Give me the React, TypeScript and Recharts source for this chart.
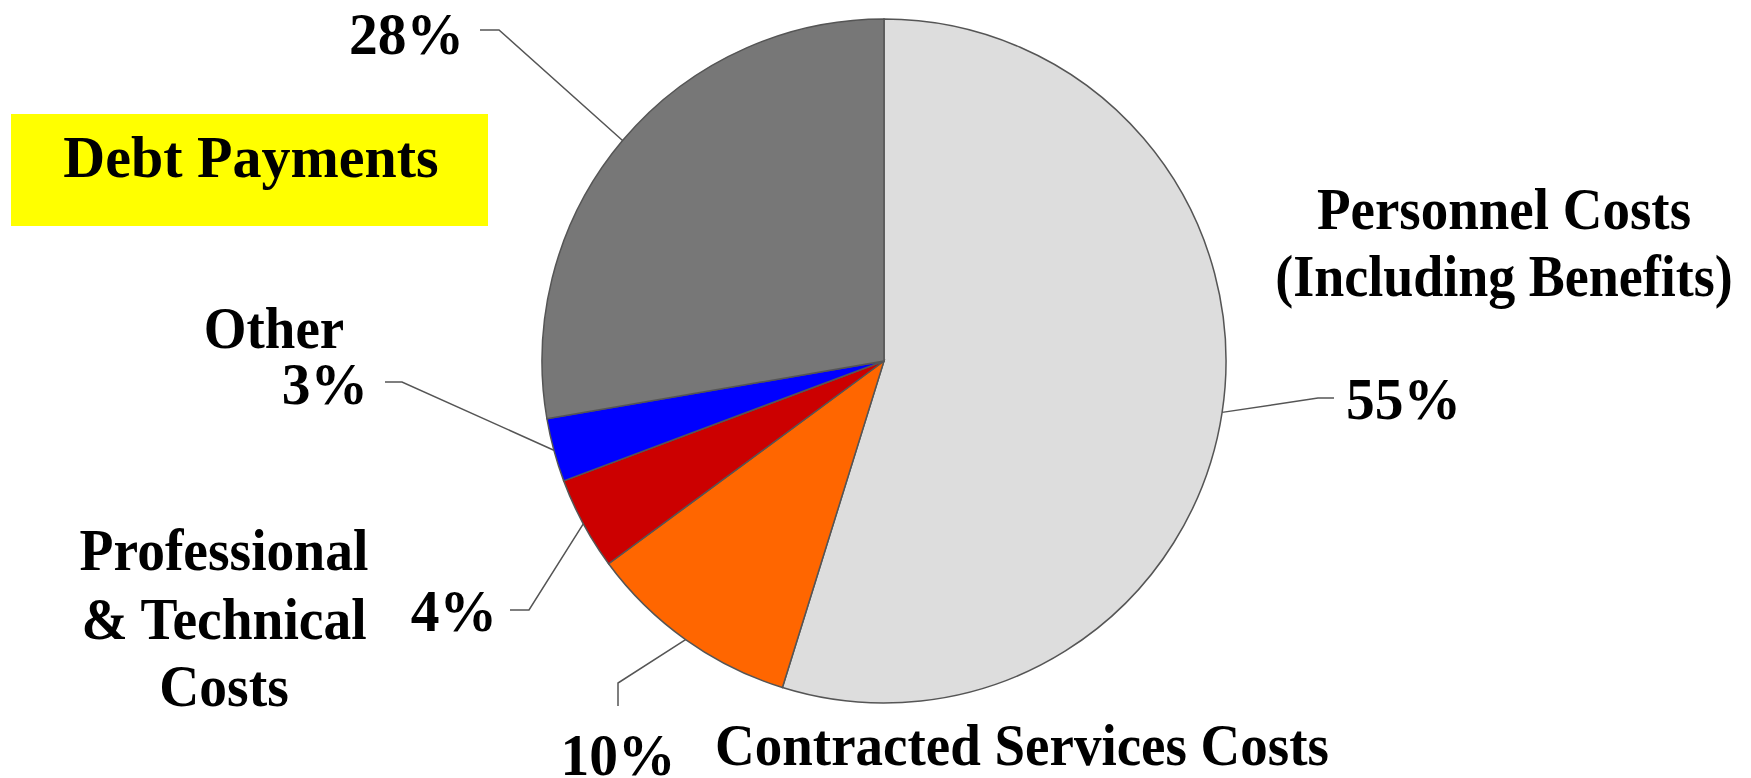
import React from 'react';
import { PieChart, Pie, Cell } from 'recharts';

// Categories, shares (percent of total spending) and colours
const categories = [
  'Personnel Costs',
  'Contracted Services Costs',
  'Professional & Technical Costs',
  'Other',
  'Debt Payments',
];
const shares = [54.8, 10.1, 4.4, 3.0, 27.7];
const colors = ['#DDDDDD', '#FF6600', '#CC0000', '#0000FF', '#777777'];
const nameLines: string[][] = [
  ['Personnel Costs', '(Including Benefits)'],
  ['Contracted Services Costs'],
  ['Professional', '& Technical', 'Costs'],
  ['Other'],
  ['Debt Payments'],
];

const data = categories.map((name, i) => ({ name, value: shares[i] }));

// Label layout (offsets relative to pie centre)
type Layout = {
  elbow: [number, number];
  tail: [number, number];
  pct: [number, number, 'start' | 'middle' | 'end'];
  names: [number, number, number][]; // dx, dy, width-equivalent size
  box?: [number, number, number, number];
};
const layouts: Layout[] = [
  { elbow: [434, 37], tail: [450, 37], pct: [462, 58, 'start'], names: [[620, -132, 55], [620, -65, 54]] },
  { elbow: [-266, 322], tail: [-266, 345], pct: [-266, 414, 'middle'], names: [[138, 404, 55]] },
  { elbow: [-355, 249], tail: [-374, 249], pct: [-387, 270, 'end'], names: [[-660, 209, 55.5], [-660, 278, 55.5], [-660, 345, 55.5]] },
  { elbow: [-482, 21], tail: [-499, 21], pct: [-516, 43, 'end'], names: [[-610, -13, 55]] },
  { elbow: [-385, -331], tail: [-404, -331], pct: [-420, -307, 'end'], names: [[-633, -184, 58]], box: [-873, -247, 477, 112] },
];

const FONT = '"Liberation Serif", "Times New Roman", serif';
const FONT_SIZE = 59;
const PCT_SIZE = 57.5;
const RAD = Math.PI / 180;

const Txt = ({ x, y, anchor, w, children }: any) => (
  <text
    transform={`translate(${x},${y}) scale(${w / FONT_SIZE},1)`}
    x={0}
    y={0}
    textAnchor={anchor}
    fontFamily={FONT}
    fontWeight="bold"
    fontSize={FONT_SIZE}
    fill="#000"
  >
    {children}
  </text>
);

const renderLabel = (props: any) => {
  const { cx, cy, midAngle, outerRadius, percent, index } = props;
  const L = layouts[index];
  const sx = cx + outerRadius * Math.cos(-midAngle * RAD);
  const sy = cy + outerRadius * Math.sin(-midAngle * RAD);
  const ex = cx + L.elbow[0];
  const ey = cy + L.elbow[1];
  const tx = cx + L.tail[0];
  const ty = cy + L.tail[1];
  return (
    <g key={`lbl-${index}`}>
      <polyline
        points={`${sx},${sy} ${ex},${ey} ${tx},${ty}`}
        fill="none"
        stroke="#555555"
        strokeWidth={1.5}
      />
      {L.box && (
        <rect x={cx + L.box[0]} y={cy + L.box[1]} width={L.box[2]} height={L.box[3]} fill="#FFFF00" />
      )}
      <Txt x={cx + L.pct[0]} y={cy + L.pct[1]} anchor={L.pct[2]} w={PCT_SIZE}>
        {`${Math.round(percent * 100)}%`}
      </Txt>
      {nameLines[index].map((line, j) => (
        <Txt key={j} x={cx + L.names[j][0]} y={cy + L.names[j][1]} anchor="middle" w={L.names[j][2]}>
          {line}
        </Txt>
      ))}
    </g>
  );
};

export default function App() {
  return (
    <div style={{ position: 'absolute', left: 0, top: 0, width: 1751, height: 778, background: '#fff' }}>
      <PieChart width={1751} height={778} margin={{ top: 0, right: 0, bottom: 0, left: 0 }}>
        <Pie
          data={data}
          dataKey="value"
          nameKey="name"
          cx={884}
          cy={361}
          outerRadius={342}
          startAngle={90}
          endAngle={-270}
          stroke="#555555"
          strokeWidth={1.5}
          label={renderLabel}
          labelLine={false}
          isAnimationActive={false}
        >
          {data.map((d, i) => (
            <Cell key={d.name} fill={colors[i]} />
          ))}
        </Pie>
      </PieChart>
    </div>
  );
}
